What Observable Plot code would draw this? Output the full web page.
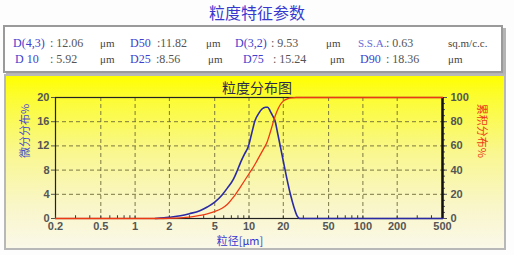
<!DOCTYPE html>
<html>
<head>
<meta charset="utf-8">
<script src="https://cdn.jsdelivr.net/npm/d3@7"></script>
<script src="https://cdn.jsdelivr.net/npm/@observablehq/plot@0.6"></script>
<style>
  html, body { margin: 0; padding: 0; background: #fdfdfd; }
  #wrap { position: relative; width: 514px; height: 255px; overflow: hidden; }
  .abs { position: absolute; white-space: nowrap; }
  #title { left: 0; width: 514px; top: 3px; text-align: center; font: 16px "Noto Sans CJK SC"; color: #3838d0; line-height: 18px; }
  #table { left: 3px; top: 25px; width: 496px; height: 44px; border: 2px solid #9a9a9a; background: #fff; box-shadow: 3px 3px 0 #b4b4b4; }
  .cell { position: absolute; font: 12px "Liberation Serif"; line-height: 14px; }
  .lab { color: #4040cc; }
  .lab2 { color: #6a6ad8; font-size: 11px; }
  .val { color: #555; }
  .unit { color: #444; font-size: 11px; }
  #panel { left: 4px; top: 74px; width: 498px; height: 172px; border: 2px solid #b8b8b8;
    background: linear-gradient(#ffff00 0%, #fcfc30 12%, #f9f790 45%, #f9f6c8 75%, #faf8e8 100%); }
  #ptitle { left: 0; width: 514px; top: 78px; text-align: center; font: 14px "Noto Sans CJK SC"; color: #2a2a4a; line-height: 18px; }
  #chart { position: absolute; left: 0; top: 0; }
</style>
</head>
<body>
<div id="wrap">
  <div id="title" class="abs">粒度特征参数</div>
  <div id="table" class="abs"></div>
  <div id="panel" class="abs"></div>
  <div id="ptitle" class="abs">粒度分布图</div>
  <div id="chart"></div>
</div>
<script>
// ---- data ----
const paramRow1 = [
  {t: "D(4,3)", c: "lab", x: 13}, {t: ": 12.06", c: "val", x: 50}, {t: "μm", c: "unit", x: 100},
  {t: "D50", c: "lab", x: 130}, {t: ":11.82", c: "val", x: 157}, {t: "μm", c: "unit", x: 206},
  {t: "D(3,2)", c: "lab", x: 235}, {t: ": 9.53", c: "val", x: 271}, {t: "μm", c: "unit", x: 326},
  {t: "S.S.A.", c: "lab2", x: 358}, {t: ": 0.63", c: "val", x: 386}, {t: "sq.m/c.c.", c: "unit", x: 448}
];
const paramRow2 = [
  {t: "D 10", c: "lab", x: 15}, {t: ": 5.92", c: "val", x: 50}, {t: "μm", c: "unit", x: 100},
  {t: "D25", c: "lab", x: 130}, {t: ":8.56", c: "val", x: 156}, {t: "μm", c: "unit", x: 208},
  {t: "D75", c: "lab", x: 243}, {t: ": 15.24", c: "val", x: 273}, {t: "μm", c: "unit", x: 330},
  {t: "D90", c: "lab", x: 360}, {t: ": 18.36", c: "val", x: 386}, {t: "μm", c: "unit", x: 448}
];

// differential distribution (%) vs particle size (µm)
const diffSize = [1.5, 1.8, 2, 2.5, 3, 3.7, 4.3, 5, 5.8, 6.5, 7.3, 7.8, 8.4, 9.1, 9.9, 10.6, 11.3, 12.1, 13.0, 14.0, 14.6, 15.3, 16.1, 16.9, 17.8, 18.8, 20.1, 21.5, 23.1, 24.7, 26.5, 28, 50, 100, 200, 500];
const diffValue = [0, 0.1, 0.2, 0.45, 0.8, 1.3, 1.9, 2.7, 3.9, 5.1, 6.5, 7.7, 9.2, 10.6, 12.0, 14.2, 16.2, 17.3, 18.1, 18.4, 18.4, 17.8, 17.0, 16.2, 14.2, 12.0, 9.3, 6.6, 4.0, 2.0, 0.4, 0, 0, 0, 0, 0];

// cumulative distribution (%) vs particle size (µm)
const cumSize = [0.2, 0.5, 1, 1.6, 2, 2.5, 3, 3.7, 4.3, 4.9, 5.8, 6.5, 7.3, 8.4, 9.1, 10, 11, 11.8, 12.8, 13.5, 14.4, 15, 15.8, 16.6, 17.5, 18.8, 20, 22, 24, 26, 50, 100, 200, 500];
const cumValue = [0, 0, 0, 0, 0.2, 0.6, 1.2, 2.5, 3.8, 5.5, 8.5, 12, 17.6, 26, 31, 37, 43, 48, 54, 58, 63, 68, 75, 82, 88, 94, 97, 99, 99.7, 100, 100, 100, 100, 100];

const xTicks = [0.2, 0.5, 1, 2, 5, 10, 20, 50, 100, 200, 500];
const xGrid = [0.5, 1, 2, 5, 10, 20, 50, 100, 200];
const leftTicks = [0, 4, 8, 12, 16, 20];
const rightTicks = [0, 20, 40, 60, 80, 100];
const yGrid = [4, 8, 12, 16];

// ---- table ----
const table = document.getElementById("table");
for (const [row, top] of [[paramRow1, 9], [paramRow2, 25]]) {
  for (const d of row) {
    const s = document.createElement("span");
    s.className = "cell " + d.c;
    s.textContent = d.t;
    s.style.left = (d.x - 5) + "px";
    s.style.top = top + "px";
    table.appendChild(s);
  }
}

// ---- chart ----
const diffData = diffSize.map((s, i) => ({s, v: diffValue[i]}));
const cumData = cumSize.map((s, i) => ({s, c: cumValue[i]}));
const minorX = [];
for (const dec of [0.1, 1, 10, 100]) for (let k = 1; k <= 9; k++) { const v = +(k * dec).toPrecision(3); if (v >= 0.2 && v <= 500) minorX.push(v); }
const minorY = d3.range(0, 21, 1);

const chart = Plot.plot({
  width: 514, height: 255,
  marginLeft: 55, marginRight: 72, marginTop: 97, marginBottom: 37,
  style: {background: "transparent", fontFamily: "Liberation Sans", fontSize: "11px", color: "#555", fontWeight: "bold"},
  x: {type: "log", domain: [0.2, 500], axis: null},
  y: {domain: [0, 20]},
  marks: [
    Plot.gridX(xGrid, {stroke: "#6e6a3a", strokeOpacity: 0.9, strokeDasharray: "4,3"}),
    Plot.gridY(yGrid, {stroke: "#6e6a3a", strokeOpacity: 0.9, strokeDasharray: "4,3"}),
    Plot.frame({stroke: "#222", strokeWidth: 1.2}),
    Plot.ruleX(minorX, {x: d => d, y1: 0, y2: 0.45, stroke: "#333", strokeWidth: 1}),
    Plot.text(xTicks, {x: d => d, frameAnchor: "bottom", dy: 11, text: d => String(d), fill: "#555", fontFamily: "Liberation Sans", fontSize: 11, fontWeight: "bold"}),
    Plot.axisY({ticks: leftTicks, tickSize: 4, tickPadding: 2, label: null, fill: "#555"}),
    Plot.axisY({anchor: "right", ticks: minorY, tickSize: 2, tickFormat: () => "", label: null}),
    Plot.axisY({anchor: "right", ticks: rightTicks.map(d => d / 5), tickSize: 4, tickPadding: 4, tickFormat: d => String(d * 5), label: null, fill: "#555", textAnchor: "start"}),
    Plot.ruleX([500], {stroke: "#111", strokeWidth: 2.5}),
    Plot.line(diffData, {x: "s", y: "v", stroke: "#2a2aa6", strokeWidth: 1.6, curve: "monotone-x"}),
    Plot.line(cumData, {x: "s", y: d => d.c / 5, stroke: "#ee3a14", strokeWidth: 1.3, curve: "monotone-x"}),
    Plot.text(["微分分布%"], {frameAnchor: "left", dx: -30, rotate: -90, fill: "#4a4ad0", fontFamily: "Noto Sans CJK SC", fontSize: 11, fontWeight: "normal"}),
    Plot.text(["累积分布%"], {frameAnchor: "right", dx: 39, rotate: 90, fill: "#ee3a14", fontFamily: "Noto Sans CJK SC", fontSize: 11, fontWeight: "normal"}),
    Plot.text(["粒径[μm]"], {frameAnchor: "bottom", dy: 26, dx: -9, fill: "#3838d0", fontFamily: "Noto Sans CJK SC", fontSize: 11, fontWeight: "normal"})
  ]
});
document.getElementById("chart").appendChild(chart);
</script>
</body>
</html>
